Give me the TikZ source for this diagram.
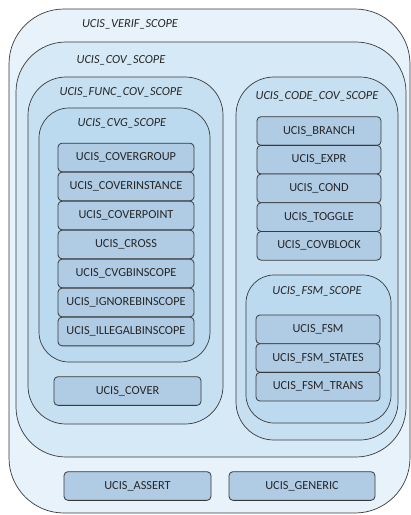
\documentclass[tikz,border=0pt]{standalone}
\usepackage{fontspec}
\setmainfont{Carlito}
\definecolor{cVerif}{HTML}{E8F2FB}
\definecolor{cCov}{HTML}{D6E9F7}
\definecolor{cFunc}{HTML}{C6E0F2}
\definecolor{cCvg}{HTML}{BCDAEF}
\definecolor{cBox}{HTML}{B0CCE5}
\definecolor{cLine}{HTML}{3A3A3A}
\begin{document}
\begin{tikzpicture}[x=1pt,y=-1pt,
  scopebox/.style={draw=cLine,line width=0.7pt},
  lbl/.style={font=\fontsize{12.3}{14}\selectfont\itshape,text=black!85,inner sep=0pt},
  item/.style={draw=cLine,line width=0.8pt,fill=cBox,rounded corners=4pt,
    minimum height=28.7pt,inner sep=0pt,font=\fontsize{12.3}{14}\selectfont,text=black!85},
  cvgitem/.style={item,minimum width=136pt},
  codeitem/.style={item,minimum width=124pt}]
\useasboundingbox (0,0) rectangle (411,515);
\fill[white] (0,0) rectangle (411,515);
% containers
\draw[scopebox,fill=cVerif,rounded corners=55pt] (9,9) rectangle (410,513);
\draw[scopebox,fill=cCov,rounded corners=50pt] (16,42) rectangle (406,457);
\draw[scopebox,fill=cFunc,rounded corners=38pt] (28,77) rectangle (223,424);
\draw[scopebox,fill=cFunc,rounded corners=38pt] (236,77) rectangle (398,440);
\draw[scopebox,fill=cCvg,rounded corners=30pt] (39,108) rectangle (210,362);
\draw[scopebox,fill=cCvg,rounded corners=28pt] (246,275) rectangle (391,423);
% labels
\node[lbl] (lverif) at (130,24) {UCIS\_VERIF\_SCOPE};
\node[lbl] (lcov) at (121,60) {UCIS\_COV\_SCOPE};
\node[lbl] (lfunc) at (121,92) {UCIS\_FUNC\_COV\_SCOPE};
\node[lbl] (lcode) at (317,96) {UCIS\_CODE\_COV\_SCOPE};
\node[lbl] (lcvg) at (122,123) {UCIS\_CVG\_SCOPE};
\node[lbl] (lfsm) at (317,291) {UCIS\_FSM\_SCOPE};
% CVG items
\node[cvgitem] (cg) at (126,157.5) {UCIS\_COVERGROUP};
\node[cvgitem] (ci) at (126,186.5) {UCIS\_COVERINSTANCE};
\node[cvgitem] (cp) at (126,215.5) {UCIS\_COVERPOINT};
\node[cvgitem] (cr) at (126,244.5) {UCIS\_CROSS};
\node[cvgitem] (cb) at (126,273.5) {UCIS\_CVGBINSCOPE};
\node[cvgitem] (ig) at (126,302.5) {UCIS\_IGNOREBINSCOPE};
\node[cvgitem] (il) at (126,331.5) {UCIS\_ILLEGALBINSCOPE};
% cover
\node[item,minimum width=147pt] (cover) at (127.5,391) {UCIS\_COVER};
% code items
\node[codeitem] (br) at (319,131) {UCIS\_BRANCH};
\node[codeitem] (ex) at (319,159.7) {UCIS\_EXPR};
\node[codeitem] (co) at (319,188.4) {UCIS\_COND};
\node[codeitem] (tg) at (319,217.1) {UCIS\_TOGGLE};
\node[codeitem] (bl) at (319,245.8) {UCIS\_COVBLOCK};
% fsm items
\node[codeitem] (fsm) at (318,329.3) {UCIS\_FSM};
\node[codeitem] (fst) at (318,358) {UCIS\_FSM\_STATES};
\node[codeitem] (ftr) at (318,386.7) {UCIS\_FSM\_TRANS};
% bottom
\node[item,minimum width=147pt] (as) at (137.5,486) {UCIS\_ASSERT};
\node[item,minimum width=146pt] (ge) at (302,486) {UCIS\_GENERIC};
\end{tikzpicture}
\end{document}
